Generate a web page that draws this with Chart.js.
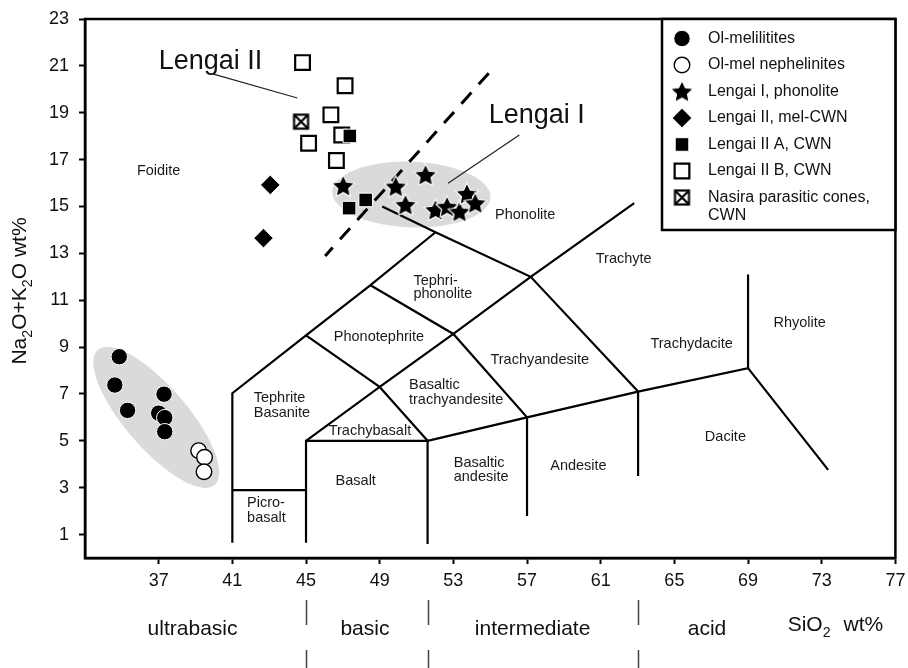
<!DOCTYPE html>
<html>
<head>
<meta charset="utf-8">
<title>TAS diagram – Lengai and Nasira lavas</title>
<script src="https://cdn.jsdelivr.net/npm/chart.js@4.4.1/dist/chart.umd.min.js"></script>
<style>
  html, body { margin: 0; padding: 0; background: #fff; }
  canvas { display: block; }
</style>
</head>
<body>
<canvas id="tas" width="908" height="668"></canvas>
<script>
const FONT = '"Liberation Sans", Arial, Helvetica, sans-serif';

// Axis tick labels
const xTickValues = [37, 41, 45, 49, 53, 57, 61, 65, 69, 73, 77];
const yTickValues = [1, 3, 5, 7, 9, 11, 13, 15, 17, 19, 21, 23];

// Sample groups, each point = [SiO2 wt%, Na2O+K2O wt%]
const olMelilitites = [[34.86, 8.59], [34.62, 7.38], [35.31, 6.30], [37.29, 6.99], [37.00, 6.18], [37.33, 5.99], [37.33, 5.39]];
const olMelNephelinites = [[39.17, 4.58], [39.49, 4.30], [39.46, 3.68]];
const lengaiIPhonolite = [[47.02, 15.88], [49.87, 15.85], [51.49, 16.35], [50.40, 15.07], [52.03, 14.85], [52.66, 14.99], [53.33, 14.78], [53.74, 15.54], [54.19, 15.14]];
const lengaiIIMelCWN = [[43.06, 15.92], [42.69, 13.65]];
const lengaiIIA = [[47.38, 18.01], [47.34, 14.93], [48.24, 15.28]];
const lengaiIIB = [[44.81, 21.14], [47.12, 20.15], [46.35, 18.91], [45.14, 17.70], [46.94, 18.05], [46.65, 16.96]];
const nasiraCones = [[44.73, 18.62]];

const seriesLabels = [
  'Ol-melilitites',
  'Ol-mel nephelinites',
  'Lengai I, phonolite',
  'Lengai II, mel-CWN',
  'Lengai II A, CWN',
  'Lengai II B, CWN',
  'Nasira parasitic cones,\nCWN'
];

// TAS field boundaries (SiO2, total alkali)
const tasBoundaries = [
  [[41, 0.65], [41, 7.03], [45, 9.5], [48.5, 11.64], [52.03, 13.9]],
  [[49.14, 15.0], [52.03, 13.9], [57.2, 12.0], [63.03, 7.1]],
  [[41, 2.9], [45, 2.9]],
  [[45, 0.65], [45, 5.0], [51.6, 5.0], [51.6, 0.6]],
  [[45, 5.0], [49.0, 7.3], [51.6, 5.0]],
  [[45, 9.5], [49.0, 7.3], [53.0, 9.56], [57.2, 12.0], [62.82, 15.14]],
  [[48.5, 11.64], [53.0, 9.56], [57.0, 6.0], [57.0, 1.79]],
  [[51.6, 5.0], [57.0, 6.0], [63.03, 7.1], [69.0, 8.1], [73.35, 3.76]],
  [[63.03, 7.1], [63.03, 3.5]],
  [[69.0, 12.1], [69.0, 8.1]]
];

// Lengai I / Lengai II divide and label leaders
const lengaiDivide = [[54.92, 20.69], [46.04, 12.89]];
const leaderLengaiII = [[39.93, 20.66], [44.53, 19.63]];
const leaderLengaiI = [[56.58, 18.05], [52.71, 15.99]];

// Shaded sample fields: centre and two semi-axis vectors, in data units
const shadedFields = [
  { c: [36.87, 6.0], u: [3.17, -2.88], v: [1.27, 0.87] },
  { c: [50.72, 15.51], u: [4.29, -0.12], v: [0.06, 1.40] }
];

// Field names: lines of text at data coordinates
const fieldLabels = [
  { x: 37.0, align: 'center', lines: [['Foidite', 16.53]] },
  { x: 42.16, align: 'left', lines: [['Tephrite', 6.82], ['Basanite', 6.20]] },
  { x: 48.96, align: 'center', lines: [['Phonotephrite', 9.44]] },
  { x: 48.47, align: 'center', lines: [['Trachybasalt', 5.43]] },
  { x: 47.70, align: 'center', lines: [['Basalt', 3.30]] },
  { x: 41.80, align: 'left', lines: [['Picro-', 2.33], ['basalt', 1.72]] },
  { x: 50.83, align: 'left', lines: [['Tephri-', 11.84], ['phonolite', 11.27]] },
  { x: 50.59, align: 'left', lines: [['Basaltic', 7.38], ['trachyandesite', 6.74]] },
  { x: 57.69, align: 'center', lines: [['Trachyandesite', 8.45]] },
  { x: 53.02, align: 'left', lines: [['Basaltic', 4.07], ['andesite', 3.47]] },
  { x: 59.79, align: 'center', lines: [['Andesite', 3.94]] },
  { x: 56.90, align: 'center', lines: [['Phonolite', 14.64]] },
  { x: 62.25, align: 'center', lines: [['Trachyte', 12.76]] },
  { x: 65.94, align: 'center', lines: [['Trachydacite', 9.12]] },
  { x: 71.80, align: 'center', lines: [['Rhyolite', 10.02]] },
  { x: 67.77, align: 'center', lines: [['Dacite', 5.15]] }
];

// Silica saturation classes below the axis
const silicaClasses = [['ultrabasic', 38.84], ['basic', 48.2], ['intermediate', 57.3], ['acid', 66.77]];
const silicaDividers = [45, 51.6, 63];

const toXY = arr => arr.map(p => ({ x: p[0], y: p[1] }));

// Custom marker images
function makeStar(R) {
  const s = Math.ceil(R * 2 + 4);
  const c = document.createElement('canvas');
  c.width = s; c.height = s;
  const g = c.getContext('2d');
  const cx = s / 2, cy = s / 2 + R * 0.08;
  g.beginPath();
  for (let i = 0; i < 10; i++) {
    const r = i % 2 ? R * 0.49 : R;
    const a = -Math.PI / 2 + i * Math.PI / 5;
    g.lineTo(cx + r * Math.cos(a), cy + r * Math.sin(a));
  }
  g.closePath();
  g.fillStyle = '#000';
  g.fill();
  g.strokeStyle = '#fff';
  g.lineWidth = 1.1;
  g.stroke();
  return c;
}
function makeCrossBox(side, lw) {
  const s = Math.ceil(side + lw + 2);
  const c = document.createElement('canvas');
  c.width = s; c.height = s;
  const g = c.getContext('2d');
  const o = (s - side) / 2;
  g.fillStyle = '#fff';
  g.fillRect(o, o, side, side);
  g.strokeStyle = '#000';
  g.lineWidth = lw;
  g.strokeRect(o, o, side, side);
  g.beginPath();
  g.moveTo(o, o); g.lineTo(o + side, o + side);
  g.moveTo(o + side, o); g.lineTo(o, o + side);
  g.stroke();
  return c;
}
const starImg = makeStar(11.8);
const crossBoxImg = makeCrossBox(14, 2.2);

function markerSet(label, pts, style) {
  return Object.assign({ label, data: toXY(pts), showLine: false, order: 0, isSample: true }, style);
}

const sampleSets = [
  markerSet(seriesLabels[0], olMelilitites, { pointStyle: 'circle', pointRadius: 8.2, pointBackgroundColor: '#000', pointBorderColor: '#fff', pointBorderWidth: 1 }),
  markerSet(seriesLabels[1], olMelNephelinites, { pointStyle: 'circle', pointRadius: 7.8, pointBackgroundColor: '#fff', pointBorderColor: '#000', pointBorderWidth: 1.4 }),
  markerSet(seriesLabels[2], lengaiIPhonolite, { pointStyle: starImg, pointRadius: 11, pointBackgroundColor: '#000', pointBorderColor: '#fff', pointBorderWidth: 1 }),
  markerSet(seriesLabels[3], lengaiIIMelCWN, { pointStyle: 'rectRot', pointRadius: 9.8, pointBackgroundColor: '#000', pointBorderColor: '#fff', pointBorderWidth: 1 }),
  markerSet(seriesLabels[4], lengaiIIA, { pointStyle: 'rect', pointRadius: 9.6, pointBackgroundColor: '#000', pointBorderColor: '#fff', pointBorderWidth: 1 }),
  markerSet(seriesLabels[5], lengaiIIB, { pointStyle: 'rect', pointRadius: 10.4, pointBackgroundColor: '#fff', pointBorderColor: '#000', pointBorderWidth: 2.2 }),
  markerSet(seriesLabels[6], nasiraCones, { pointStyle: crossBoxImg, pointRadius: 9, pointBackgroundColor: '#fff', pointBorderColor: '#000', pointBorderWidth: 2 })
];

function lineSet(pts, width, dash, color) {
  return {
    data: toXY(pts), showLine: true, pointRadius: 0, borderColor: color || '#000',
    borderWidth: width, borderDash: dash || [], fill: false, tension: 0, order: 10
  };
}
const lineSets = tasBoundaries.map(b => lineSet(b, 2.2))
  .concat([lineSet(lengaiDivide, 3, [15, 11]), lineSet(leaderLengaiII, 1.2, null, '#222'), lineSet(leaderLengaiI, 1.2, null, '#222')]);

function drawMarker(ctx, ds, x, y) {
  ctx.save();
  ctx.fillStyle = ds.pointBackgroundColor;
  ctx.strokeStyle = ds.pointBorderColor;
  ctx.lineWidth = ds.pointBorderWidth;
  const opts = { pointStyle: ds.pointStyle, radius: ds.pointRadius, rotation: 0, borderWidth: ds.pointBorderWidth };
  Chart.helpers.drawPoint(ctx, opts, x, y);
  ctx.restore();
}

function drawRich(ctx, parts, x, y, size, align) {
  const subSize = size * 0.68;
  let w = 0;
  parts.forEach(p => {
    ctx.font = (p[1] ? subSize : size) + 'px ' + FONT;
    w += ctx.measureText(p[0]).width + (p[2] || 0);
  });
  let cx = align === 'center' ? x - w / 2 : x;
  parts.forEach(p => {
    const s = p[1] ? subSize : size;
    ctx.font = s + 'px ' + FONT;
    cx += (p[2] || 0);
    ctx.fillText(p[0], cx, y + (p[1] ? size * 0.3 : 0));
    cx += ctx.measureText(p[0]).width;
  });
}

const tasDecor = {
  id: 'tasDecor',
  beforeDatasetsDraw(chart) {
    const { ctx, scales: { x, y } } = chart;
    ctx.save();
    // shaded sample fields
    ctx.fillStyle = '#dadada';
    shadedFields.forEach(e => {
      ctx.beginPath();
      for (let i = 0; i <= 180; i++) {
        const t = i / 180 * Math.PI * 2;
        const dx = e.c[0] + e.u[0] * Math.cos(t) + e.v[0] * Math.sin(t);
        const dy = e.c[1] + e.u[1] * Math.cos(t) + e.v[1] * Math.sin(t);
        const px = x.getPixelForValue(dx), py = y.getPixelForValue(dy);
        if (i === 0) ctx.moveTo(px, py); else ctx.lineTo(px, py);
      }
      ctx.closePath();
      ctx.fill();
    });
    // field names
    ctx.fillStyle = '#1a1a1a';
    ctx.font = '14.5px ' + FONT;
    ctx.textBaseline = 'middle';
    fieldLabels.forEach(f => {
      ctx.textAlign = f.align;
      f.lines.forEach(l => ctx.fillText(l[0], x.getPixelForValue(f.x), y.getPixelForValue(l[1])));
    });
    // group labels
    ctx.textAlign = 'left';
    ctx.textBaseline = 'alphabetic';
    ctx.fillStyle = '#111';
    ctx.font = '27px ' + FONT;
    ctx.fillText('Lengai II', x.getPixelForValue(37.0), y.getPixelForValue(20.87));
    ctx.fillText('Lengai I', x.getPixelForValue(54.92), y.getPixelForValue(18.55));
    ctx.restore();
  },
  afterDatasetsDraw(chart) {
    const { ctx, chartArea: a } = chart;
    ctx.save();
    // plot frame
    ctx.strokeStyle = '#000';
    ctx.lineWidth = 2.5;
    ctx.strokeRect(a.left, a.top, a.right - a.left, a.bottom - a.top);
    // legend box
    const box = { left: 662, top: a.top, right: a.right, bottom: 230 };
    ctx.fillStyle = '#fff';
    ctx.fillRect(box.left, box.top, box.right - box.left, box.bottom - box.top);
    ctx.strokeRect(box.left, box.top, box.right - box.left, box.bottom - box.top);
    const sets = chart.data.datasets.filter(d => d.isSample);
    ctx.font = '16px ' + FONT;
    ctx.textBaseline = 'middle';
    ctx.textAlign = 'left';
    sets.forEach((ds, i) => {
      const ry = box.top + 19.5 + i * 26.5;
      drawMarker(ctx, ds, box.left + 20, ry);
      ctx.fillStyle = '#111';
      ds.label.split('\n').forEach((t, k) => ctx.fillText(t, box.left + 46, ry + k * 18.5));
    });
    ctx.restore();
  },
  afterDraw(chart) {
    const { ctx, scales: { x } } = chart;
    ctx.save();
    ctx.fillStyle = '#111';
    // y axis title
    ctx.save();
    ctx.translate(26, 291);
    ctx.rotate(-Math.PI / 2);
    ctx.textBaseline = 'alphabetic';
    ctx.textAlign = 'left';
    drawRich(ctx, [['Na'], ['2', 1], ['O+K'], ['2', 1], ['O wt%']], 0, 0, 21, 'center');
    ctx.restore();
    // silica classes
    ctx.textAlign = 'center';
    ctx.textBaseline = 'alphabetic';
    ctx.font = '21px ' + FONT;
    silicaClasses.forEach(c => ctx.fillText(c[0], x.getPixelForValue(c[1]), 635));
    ctx.textAlign = 'left';
    drawRich(ctx, [['SiO'], ['2', 1], ['wt%', 0, 13]], x.getPixelForValue(71.15), 631, 21, 'left');
    // class dividers
    ctx.strokeStyle = '#444';
    ctx.lineWidth = 1.5;
    ctx.setLineDash([25, 25]);
    silicaDividers.forEach(v => {
      const px = Math.round(x.getPixelForValue(v)) + 0.5;
      ctx.beginPath();
      ctx.moveTo(px, 600);
      ctx.lineTo(px, 668);
      ctx.stroke();
    });
    ctx.restore();
  }
};

const tickFont = { family: FONT, size: 18 };
const axisGrid = { display: true, drawOnChartArea: false, drawTicks: true, tickLength: 6, tickWidth: 2, tickColor: '#000' };
const axisBorder = { display: true, color: '#000', width: 2.5 };

new Chart(document.getElementById('tas'), {
  type: 'scatter',
  data: { datasets: sampleSets.concat(lineSets) },
  options: {
    responsive: false,
    devicePixelRatio: 1,
    animation: false,
    events: [],
    layout: { padding: { top: 19, right: 10, bottom: 0, left: 0 } },
    plugins: { legend: { display: false }, tooltip: { enabled: false } },
    scales: {
      x: {
        type: 'linear', min: 33, max: 77,
        afterBuildTicks: s => { s.ticks = xTickValues.map(v => ({ value: v })); },
        afterFit: s => { s.height = 110; s.paddingLeft = 0; s.paddingRight = 0; },
        ticks: { font: tickFont, color: '#111', padding: 6, maxRotation: 0, autoSkip: false },
        grid: axisGrid,
        border: axisBorder
      },
      y: {
        type: 'linear', min: 0, max: 23,
        afterBuildTicks: s => { s.ticks = yTickValues.map(v => ({ value: v })); },
        afterFit: s => { s.width = 85; s.paddingTop = 0; s.paddingBottom = 0; },
        ticks: { font: tickFont, color: '#111', padding: 10, autoSkip: false },
        grid: axisGrid,
        border: axisBorder
      }
    }
  },
  plugins: [tasDecor]
});
</script>
</body>
</html>
